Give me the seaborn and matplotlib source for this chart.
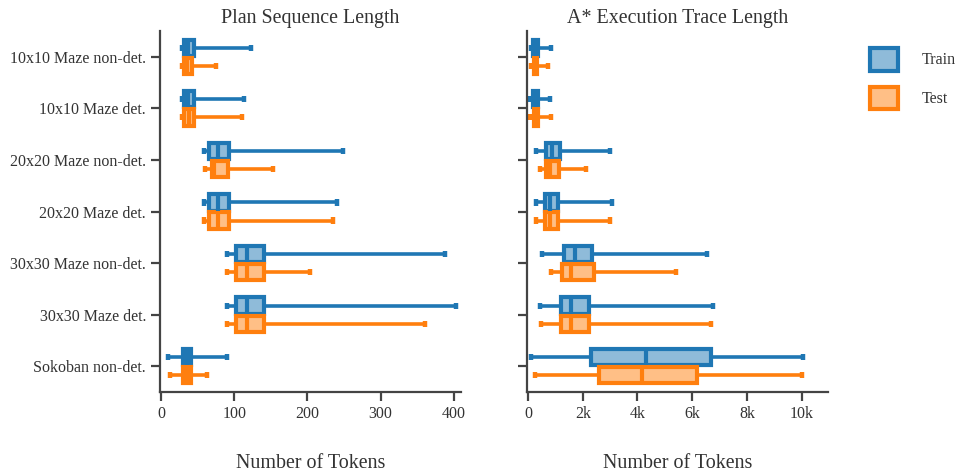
import pandas as pd
import matplotlib
matplotlib.use('Agg')
import matplotlib.pyplot as plt
from matplotlib.patches import Patch
from matplotlib.ticker import FuncFormatter
import seaborn as sns

# categories (top to bottom)
tasks = ['10x10 Maze non-det.', '10x10 Maze det.',
         '20x20 Maze non-det.', '20x20 Maze det.',
         '30x30 Maze non-det.', '30x30 Maze det.',
         'Sokoban non-det.']
splits = ['Train', 'Test']

# plan sequence length, five-number summaries
plan_train_min = [28, 28, 59, 59, 90, 90, 9]
plan_train_q1 = [32, 32, 65, 65, 102, 102, 30]
plan_train_med = [37, 37, 78, 78, 117, 117, 36]
plan_train_q3 = [45, 45, 93, 93, 141, 141, 41]
plan_train_max = [123, 114, 249, 241, 388, 403, 90]

plan_test_min = [29, 29, 60, 59, 90, 90, 12]
plan_test_q1 = [32, 32, 69, 65, 102, 102, 30]
plan_test_med = [36, 38, 73, 78, 117, 117, 35]
plan_test_q3 = [42, 45, 91, 93, 141, 141, 41]
plan_test_max = [75, 111, 153, 235, 204, 361, 63]

# A* execution trace length (tokens)
trace_train_min = [100, 90, 280, 280, 500, 450, 100]
trace_train_q1 = [190, 190, 670, 610, 1320, 1190, 2290]
trace_train_med = [280, 280, 880, 800, 1720, 1580, 4300]
trace_train_q3 = [380, 380, 1170, 1110, 2340, 2230, 6700]
trace_train_max = [830, 810, 3000, 3070, 6540, 6770, 10050]

trace_test_min = [100, 80, 440, 300, 850, 490, 260]
trace_test_q1 = [210, 210, 650, 610, 1250, 1190, 2610]
trace_test_med = [270, 280, 800, 800, 1570, 1580, 4150]
trace_test_q3 = [340, 380, 1120, 1110, 2400, 2230, 6160]
trace_test_max = [720, 830, 2130, 3000, 5410, 6690, 10020]

edge_colors = {'Train': '#1f77b4', 'Test': '#ff7f0e'}
fill_colors = {'Train': '#8fbbd9', 'Test': '#ffbf86'}


def to_long(stats):
    rows = []
    for split, cols in stats.items():
        for i, task in enumerate(tasks):
            for col in cols:
                rows.append({'task': task, 'split': split, 'tokens': col[i]})
    return pd.DataFrame(rows)


plan = to_long({
    'Train': [plan_train_min, plan_train_q1, plan_train_med, plan_train_q3, plan_train_max],
    'Test': [plan_test_min, plan_test_q1, plan_test_med, plan_test_q3, plan_test_max]})
trace = to_long({
    'Train': [trace_train_min, trace_train_q1, trace_train_med, trace_train_q3, trace_train_max],
    'Test': [trace_test_min, trace_test_q1, trace_test_med, trace_test_q3, trace_test_max]})

sns.set_style('ticks')
plt.rcParams['font.family'] = ['Liberation Serif', 'DejaVu Serif']
text_color = '#333333'
spine_color = '#444444'

fig = plt.figure(figsize=(9.58, 4.72), dpi=100)
ax1 = fig.add_axes([160 / 958, 1 - 392 / 472, 301 / 958, 361 / 472])
ax2 = fig.add_axes([527 / 958, 1 - 392 / 472, 301 / 958, 361 / 472])


def draw(ax, df):
    for split in splits:
        sns.boxplot(data=df[df['split'] == split], x='tokens', y='task',
                    hue='split', hue_order=splits, order=tasks,
                    palette=fill_colors, saturation=1,
                    linecolor=edge_colors[split], linewidth=3,
                    width=0.7, gap=0.1, dodge=True, whis=(0, 100),
                    legend=False, ax=ax, capwidths=0.12,
                    whiskerprops=dict(linewidth=2.6),
                    capprops=dict(linewidth=3.2, solid_capstyle='butt'))
    ax.set_ylim(6.5, -0.5)
    ax.set_ylabel('')
    ax.set_xlabel('Number of Tokens', fontsize=14.4, color=text_color, labelpad=23)
    for side in ['top', 'right']:
        ax.spines[side].set_visible(False)
    for side in ['left', 'bottom']:
        ax.spines[side].set_color(spine_color)
        ax.spines[side].set_linewidth(1.6)
    ax.tick_params(axis='both', colors=spine_color, width=1.6, length=6.5,
                   labelsize=11.5, labelcolor=text_color)


draw(ax1, plan)
ax1.set_xlim(-1.4, 410)
ax1.set_xticks([0, 100, 200, 300, 400])
ax1.set_title('Plan Sequence Length', fontsize=14.4, color=text_color, pad=6)

draw(ax2, trace)
ax2.set_xlim(-37, 10960)
ax2.set_xticks([0, 2000, 4000, 6000, 8000, 10000])
ax2.xaxis.set_major_formatter(FuncFormatter(lambda v, _: '0' if v == 0 else f'{int(v / 1000)}k'))
ax2.set_yticklabels([])
ax2.set_title('A* Execution Trace Length', fontsize=14.4, color=text_color, pad=6)

handles = [Patch(facecolor=fill_colors[s], edgecolor=edge_colors[s], linewidth=3, label=s)
           for s in splits]
fig.legend(handles=handles, loc='upper left', bbox_to_anchor=(870 / 958, 1 - 48 / 472),
           frameon=False, fontsize=11.5, handlelength=1.75, handleheight=1.8,
           handletextpad=1.5, labelspacing=1.0, borderpad=0, borderaxespad=0,
           labelcolor=text_color)

fig.savefig('out.png', dpi=100)
